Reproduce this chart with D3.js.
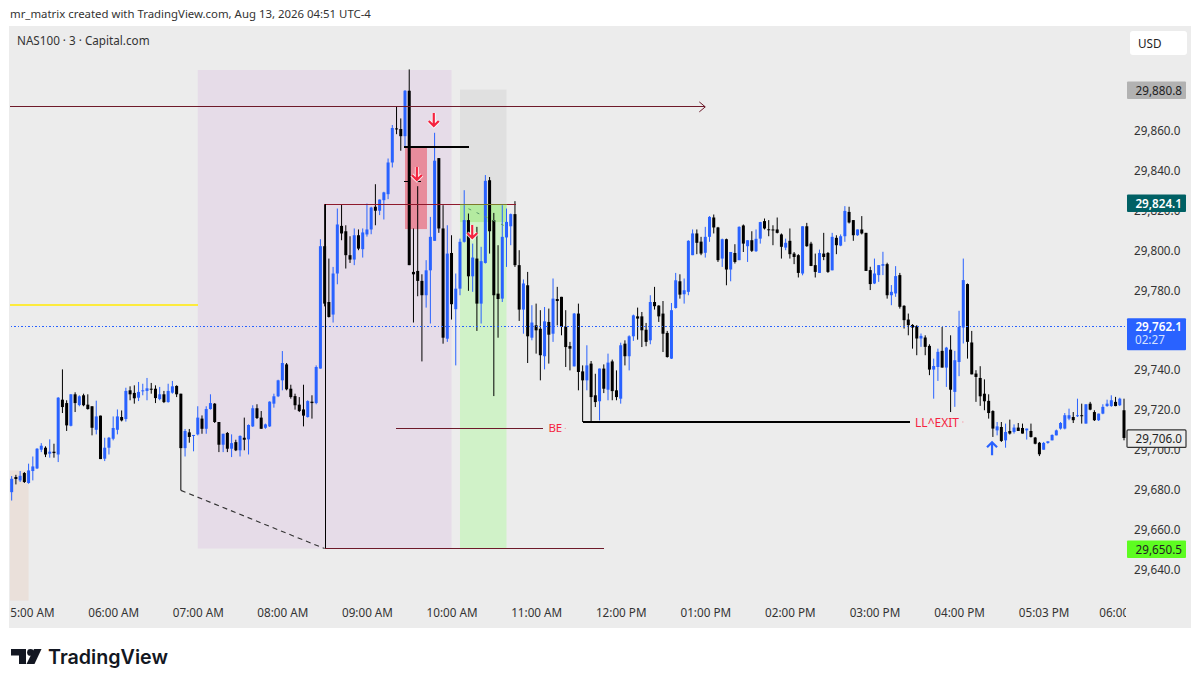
<!DOCTYPE html>
<html>
<head>
<meta charset="utf-8">
<script src="https://cdn.jsdelivr.net/npm/d3@7"></script>
<style>
    html, body { margin: 0; padding: 0; background: #fff; }
    svg { display: block; }
    text { font-family: "Noto Sans", sans-serif; }
</style>
</head>
<body>
<div id="chart"></div>
<script>
// 3 minute bars
const opens = [
29678.8,29686.4,29684.7,29688.4,29683.4,29689.4,29690.7,29700.1,29701.1,29698.1,
29699.1,29697.7,29725.2,29723.5,29712.1,29727.9,29722.5,29727.4,29722.7,29721.9,
29710.1,29717.2,29695.6,29701.1,29705.6,29710.1,29716.5,29715.5,29729.9,29728.6,
29726.2,29729.6,29729.6,29730.7,29730.7,29725.5,29727.9,29724.0,29728.7,29732.1,
29728.2,29700.9,29708.8,29707.0,29707.8,29715.7,29710.6,29720.5,29723.2,29714.0,
29702.6,29708.5,29700.6,29703.9,29699.8,29706.1,29705.3,29711.8,29720.9,29716.2,
29711.1,29711.8,29723.2,29726.9,29734.9,29742.9,29730.7,29727.0,29722.7,29720.3,
29716.5,29724.2,29723.5,29740.8,29802.2,29774.2,29767.9,29788.5,29812.4,29809.7,
29797.7,29795.5,29807.7,29800.7,29808.1,29810.6,29822.0,29820.0,29825.3,29828.3,
29844.2,29861.3,29861.0,29857.4,29880.2,29789.3,29789.8,29784.8,29777.6,29790.1,
29804.9,29846.4,29811.1,29755.8,29798.8,29770.6,29780.9,29804.4,29815.3,29787.1,
29796.0,29773.4,29793.8,29835.3,29815.3,29778.4,29775.9,29806.6,29812.2,29818.3,
29792.7,29770.4,29782.6,29756.3,29762.5,29760.8,29747.0,29764.2,29758.3,29775.7,
29776.8,29761.7,29752.1,29741.9,29768.4,29739.4,29734.9,29743.3,29727.4,29724.4,
29740.8,29730.2,29744.4,29729.9,29725.7,29753.3,29747.0,29757.0,29767.0,29767.0,
29760.3,29755.0,29774.2,29772.4,29768.4,29758.7,29745.8,29771.2,29784.6,29778.1,
29779.3,29797.7,29808.6,29804.5,29798.9,29806.9,29816.6,29811.6,29796.0,29805.7,
29790.5,29798.8,29795.2,29812.6,29802.2,29805.2,29799.7,29806.0,29814.8,29810.7,
29810.6,29810.6,29808.1,29801.5,29804.9,29798.5,29797.7,29788.5,29812.2,29803.5,
29792.7,29788.8,29798.5,29798.8,29790.1,29806.4,29802.5,29807.2,29819.4,29815.3,
29807.7,29810.6,29808.9,29790.2,29783.5,29787.7,29792.4,29793.2,29777.6,29778.5,
29787.7,29772.3,29765.4,29762.7,29762.1,29755.9,29756.4,29752.2,29740.3,29741.6,
29749.7,29741.3,29750.3,29729.1,29744.1,29761.4,29783.2,29753.9,29738.3,29736.1,
29728.2,29724.6,29719.5,29709.8,29711.5,29704.8,29709.5,29709.0,29711.2,29711.0,
29709.8,29709.5,29706.2,29703.6,29700.1,29703.5,29704.8,29707.3,29710.7,29710.7,
29715.7,29716.5,29716.9,29717.4,29713.2,29723.2,29719.0,29714.9,29718.2,29722.0,
29722.0,29724.1,29722.4,29719.9];

const highs = [
29686.9,29687.5,29689.4,29688.9,29693.1,29696.7,29700.9,29703.4,29701.8,29705.3,
29703.1,29726.5,29740.4,29724.9,29727.9,29728.9,29727.4,29728.2,29727.9,29721.9,
29724.7,29717.2,29706.1,29706.5,29716.8,29720.3,29719.8,29731.2,29731.9,29732.4,
29734.1,29733.2,29736.1,29733.6,29732.4,29731.6,29729.6,29733.2,29734.6,29732.4,
29728.2,29710.5,29710.5,29707.5,29721.9,29717.3,29721.9,29727.9,29723.5,29714.0,
29708.1,29709.0,29707.8,29705.1,29707.3,29716.2,29712.8,29722.4,29722.9,29719.5,
29713.2,29724.4,29728.2,29735.2,29749.6,29743.6,29732.7,29728.2,29726.5,29732.7,
29724.9,29727.4,29742.4,29805.7,29823.1,29796.0,29791.8,29821.1,29823.1,29812.7,
29807.2,29811.1,29810.6,29811.1,29823.6,29822.0,29833.3,29825.6,29829.5,29846.2,
29863.0,29872.5,29866.3,29880.5,29890.9,29811.1,29832.3,29788.1,29795.2,29816.9,
29859.1,29846.4,29822.8,29812.7,29807.7,29788.5,29806.0,29830.3,29818.6,29803.5,
29811.9,29801.9,29837.9,29836.9,29818.9,29802.7,29822.8,29821.1,29818.6,29824.8,
29800.2,29785.5,29789.3,29772.6,29773.4,29770.1,29771.7,29770.9,29786.0,29781.8,
29776.8,29770.1,29754.2,29768.7,29773.4,29742.4,29752.5,29744.6,29738.2,29740.8,
29742.9,29748.3,29745.3,29739.9,29753.8,29755.0,29757.5,29767.9,29771.4,29769.2,
29763.7,29777.6,29781.8,29772.6,29774.7,29759.7,29773.7,29788.8,29788.1,29786.0,
29805.2,29810.6,29810.6,29806.9,29811.9,29817.3,29818.1,29811.9,29806.0,29806.0,
29799.3,29803.2,29812.2,29813.1,29805.2,29809.7,29810.6,29814.4,29816.1,29815.3,
29812.7,29816.6,29808.6,29806.0,29811.1,29799.3,29798.2,29812.2,29813.9,29804.4,
29798.5,29800.5,29808.9,29799.3,29808.9,29807.7,29808.1,29822.3,29822.0,29815.3,
29810.6,29817.3,29808.9,29791.9,29796.0,29792.7,29799.4,29793.9,29782.7,29792.2,
29788.8,29772.6,29768.4,29763.1,29762.6,29758.4,29757.5,29753.0,29745.8,29750.8,
29761.7,29751.7,29757.5,29749.7,29769.8,29796.0,29783.5,29759.7,29740.0,29742.0,
29735.4,29727.9,29719.9,29714.0,29714.0,29713.2,29715.2,29712.8,29713.5,29713.2,
29710.7,29713.2,29706.5,29704.0,29704.0,29704.3,29707.8,29710.2,29714.0,29718.5,
29720.7,29719.0,29725.7,29723.2,29722.9,29724.1,29719.9,29718.2,29722.9,29725.2,
29727.4,29726.6,29726.2,29725.7];

const lows = [
29674.6,29682.7,29683.9,29683.4,29683.0,29684.7,29690.4,29698.9,29696.4,29696.1,
29696.1,29693.9,29718.5,29709.5,29711.8,29719.0,29721.9,29721.9,29720.2,29707.3,
29707.8,29695.4,29694.4,29697.7,29704.8,29707.8,29714.3,29714.2,29724.9,29723.2,
29724.5,29727.4,29724.9,29728.2,29723.5,29724.9,29723.5,29723.7,29728.2,29726.5,
29679.7,29696.7,29703.6,29699.3,29707.3,29708.1,29708.1,29720.2,29713.5,29698.9,
29698.9,29698.9,29696.4,29699.4,29696.7,29699.8,29697.7,29711.5,29715.5,29710.6,
29710.6,29711.5,29721.2,29726.5,29729.9,29729.9,29725.7,29720.2,29719.0,29711.8,
29716.2,29715.7,29722.9,29740.8,29772.0,29766.4,29763.9,29783.1,29805.2,29791.0,
29793.8,29792.7,29800.2,29796.5,29807.0,29808.2,29812.7,29817.8,29815.6,29825.8,
29841.7,29858.4,29850.1,29851.7,29792.7,29763.9,29777.1,29744.4,29771.4,29763.4,
29804.9,29808.9,29753.3,29754.2,29765.4,29742.4,29777.6,29804.0,29779.8,29779.3,
29759.7,29763.4,29793.5,29798.5,29727.0,29756.3,29774.2,29791.8,29802.7,29791.8,
29764.7,29758.3,29743.6,29755.0,29748.3,29734.9,29740.4,29743.3,29754.2,29762.5,
29757.5,29741.6,29739.9,29741.9,29729.9,29714.0,29729.9,29714.0,29721.5,29714.8,
29728.5,29724.9,29724.9,29724.9,29723.2,29742.4,29739.9,29754.7,29755.3,29751.6,
29752.0,29753.0,29770.4,29764.2,29749.1,29746.3,29745.6,29770.9,29775.9,29773.4,
29777.6,29797.7,29798.2,29797.7,29796.5,29804.4,29808.6,29794.3,29791.8,29782.6,
29784.6,29793.5,29795.2,29799.3,29794.3,29799.3,29799.3,29803.5,29810.6,29807.2,
29802.7,29808.6,29796.0,29800.2,29796.0,29793.2,29786.5,29787.6,29801.9,29792.2,
29786.5,29788.8,29795.2,29788.8,29790.1,29798.2,29802.2,29804.4,29813.6,29804.9,
29807.4,29808.1,29789.8,29780.2,29783.2,29784.3,29787.7,29775.9,29772.6,29776.8,
29770.9,29760.9,29757.5,29750.8,29747.5,29751.7,29747.5,29737.5,29725.7,29734.6,
29741.3,29731.6,29719.0,29721.6,29737.0,29753.4,29745.8,29737.9,29724.1,29722.1,
29719.9,29715.7,29706.5,29707.3,29704.0,29701.1,29707.7,29708.2,29709.5,29708.2,
29705.2,29706.2,29702.8,29696.9,29700.1,29703.1,29704.8,29707.3,29710.2,29710.3,
29714.9,29713.5,29716.5,29713.2,29713.2,29719.9,29714.5,29714.5,29717.9,29721.6,
29721.6,29721.9,29722.0,29704.8];

const closes = [
29685.5,29685.4,29687.0,29683.9,29689.7,29691.7,29700.6,29702.1,29697.7,29699.1,
29698.4,29726.2,29721.5,29712.3,29727.9,29723.5,29726.9,29722.4,29720.5,29711.1,
29716.8,29695.4,29701.1,29706.1,29711.0,29716.8,29714.8,29729.6,29727.9,29725.9,
29729.1,29729.9,29730.9,29730.4,29726.0,29727.9,29724.0,29729.6,29731.9,29727.9,
29700.9,29709.5,29706.5,29707.5,29716.2,29710.6,29720.5,29723.5,29714.0,29702.6,
29708.1,29700.6,29703.4,29699.8,29707.0,29705.1,29712.5,29720.9,29716.0,29710.6,
29712.8,29724.2,29726.9,29734.9,29743.6,29730.4,29726.5,29722.4,29719.5,29717.2,
29724.5,29723.5,29741.6,29802.2,29773.4,29766.7,29788.5,29813.1,29808.6,29797.7,
29795.5,29807.7,29801.0,29809.1,29810.6,29821.6,29820.0,29825.6,29829.2,29844.2,
29861.5,29860.8,29857.4,29880.2,29792.7,29788.1,29784.8,29777.6,29790.1,29806.9,
29845.1,29811.1,29756.3,29798.5,29773.1,29780.9,29804.4,29815.3,29787.1,29796.5,
29773.4,29794.7,29835.0,29809.7,29777.6,29775.7,29806.9,29814.4,29818.3,29792.7,
29770.4,29783.5,29757.0,29763.9,29760.0,29747.5,29764.5,29757.8,29775.9,29774.7,
29761.7,29751.6,29750.8,29768.4,29739.1,29734.9,29742.4,29726.5,29724.0,29740.8,
29730.7,29743.8,29729.5,29726.5,29752.5,29747.0,29757.0,29767.5,29765.9,29760.0,
29754.2,29774.2,29772.1,29767.0,29758.3,29746.6,29770.1,29785.1,29777.9,29780.1,
29804.9,29808.6,29803.9,29798.5,29806.9,29816.9,29811.6,29795.2,29805.7,29790.5,
29799.3,29794.3,29811.9,29803.5,29805.2,29799.9,29805.9,29814.3,29811.1,29810.2,
29810.2,29808.9,29801.9,29803.9,29798.2,29796.8,29788.8,29812.2,29802.2,29792.3,
29789.3,29798.8,29796.8,29789.3,29806.9,29802.7,29807.2,29819.9,29814.1,29807.7,
29810.6,29808.6,29789.8,29783.2,29788.5,29792.7,29793.2,29777.6,29779.3,29787.2,
29771.8,29765.1,29762.6,29761.4,29755.9,29757.2,29751.7,29740.3,29742.1,29749.2,
29741.3,29751.3,29730.2,29745.0,29761.7,29785.2,29754.2,29737.9,29736.6,29726.9,
29724.4,29718.5,29710.7,29711.8,29704.5,29709.0,29708.2,29711.2,29709.5,29708.2,
29710.7,29706.5,29703.1,29697.8,29703.5,29704.3,29707.5,29709.8,29713.5,29717.4,
29717.4,29714.9,29717.4,29717.0,29722.9,29720.2,29714.9,29718.2,29721.6,29723.2,
29724.9,29722.0,29725.7,29706.0];

// Axis labels (29,760 sits behind the last price flag in the picture)
const priceTicks = [29640, 29660, 29680, 29700, 29720, 29740, 29780, 29800, 29820, 29840, 29860];
const timeTickBars = [4, 24, 44, 64, 84, 104, 124, 144, 164, 184, 204, 224, 244, 263];
const timeTickLabels = ["05:00 AM", "06:00 AM", "07:00 AM", "08:00 AM", "09:00 AM", "10:00 AM", "11:00 AM",
    "12:00 PM", "01:00 PM", "02:00 PM", "03:00 PM", "04:00 PM", "05:03 PM", "06:00 PM"];

// Price flags on the right hand scale
const flagPrices = [29880.8, 29824.1, 29762.1, 29706.0, 29650.5];
const flagFills = ["#b2b2b2", "#006064", "#2962ff", "#ececec", "#5dfc20"];
const flagInk = ["#222", "#fff", "#fff", "#222", "#222"];

// Drawing levels and bar positions
const sessionBox = [44, 104, 29890.6, 29650.5];
const earlyBox = [-1, 4, 29689.7, 29624.4];
const stopBox = [106, 117, 29880.8, 29823.3];
const targetBox = [106, 117, 29823.3, 29650.5];
const targetBoxTop = [106, 117, 29823.3, 29814.3];
const entryBox = [93, 98.2, 29852.0, 29810.8];

const colors = { up: "#2962ff", down: "#000000", maroon: "#6e1a2a", red: "#f5233f", pane: "#ececec" };

const width = 1200, height = 687;
const pane = { left: 9, right: 1191, top: 26, bottom: 628, plotRight: 1126 };

const x = d3.scaleLinear().domain([0, 263]).range([11.67, 1124]);
const y = d3.scaleLinear().domain([29640, 29860]).range([569.5, 131]);

const svg = d3.select("#chart").append("svg").attr("width", width).attr("height", height);

svg.append("rect").attr("width", width).attr("height", height).attr("fill", "#fff");
svg.append("rect")
    .attr("x", pane.left).attr("y", pane.top)
    .attr("width", pane.right - pane.left).attr("height", pane.bottom - pane.top)
    .attr("fill", colors.pane);

svg.append("clipPath").attr("id", "plotClip").append("rect")
    .attr("x", 10).attr("y", pane.top)
    .attr("width", pane.plotRight - 10).attr("height", pane.bottom - pane.top);

// Header
svg.append("text").attr("x", 10).attr("y", 18).attr("font-size", 11.4).attr("fill", "#333")
    .text("mr_matrix created with TradingView.com, Aug 13, 2026 04:51 UTC-4");
svg.append("text").attr("x", 17).attr("y", 45).attr("font-size", 11.7).attr("fill", "#333")
    .text("NAS100 · 3 · Capital.com");

const plot = svg.append("g").attr("clip-path", "url(#plotClip)");

function addBox(box, fill) {
    plot.append("rect")
        .attr("x", x(box[0])).attr("y", y(box[2]))
        .attr("width", x(box[1]) - x(box[0])).attr("height", y(box[3]) - y(box[2]))
        .attr("fill", fill);
}

addBox(sessionBox, "#e6dce8");
addBox(earlyBox, "#eae0da");
addBox(stopBox, "#e0e0e0");
addBox(targetBox, "#d0f2c8");
addBox(targetBoxTop, "#b4eba0");
addBox(entryBox, "#e88c9c");

function addLine(x1, p1, x2, p2, stroke, strokeWidth, dash) {
    return plot.append("line")
        .attr("x1", x(x1)).attr("y1", y(p1))
        .attr("x2", x(x2)).attr("y2", y(p2))
        .attr("stroke", stroke).attr("stroke-width", strokeWidth)
        .attr("stroke-dasharray", dash || null)
        .attr("shape-rendering", (p1 === p2 || x1 === x2) ? "crispEdges" : null);
}

addLine(-1, 29772.6, 44, 29772.6, "#fdeb3c", 2);

// Candles
const bars = d3.range(opens.length);
const barColor = i => closes[i] >= opens[i] ? colors.up : colors.down;

plot.append("g").selectAll("line").data(bars).join("line")
    .attr("x1", i => x(i)).attr("x2", i => x(i))
    .attr("y1", i => y(highs[i])).attr("y2", i => y(lows[i]))
    .attr("stroke", barColor).attr("stroke-width", 1);

plot.append("g").selectAll("rect").data(bars).join("rect")
    .attr("x", i => x(i) - 1.5).attr("width", 3)
    .attr("y", i => y(Math.max(opens[i], closes[i])))
    .attr("height", i => Math.max(1, Math.abs(y(opens[i]) - y(closes[i]))))
    .attr("fill", barColor);

// Drawings on top of the candles
addLine(-1, 29872.1, 164, 29872.1, colors.maroon, 1);
plot.append("path")
    .attr("d", `M${x(164) - 6},${y(29872.1) - 5}L${x(164)},${y(29872.1)}L${x(164) - 6},${y(29872.1) + 5}`)
    .attr("fill", "none").attr("stroke", colors.maroon);

addLine(92.8, 29852.2, 108.2, 29852.2, "#000", 2);
addLine(73.8, 29823.3, 119.2, 29823.3, "#8f1a2c", 1);
addLine(106, 29823.3, 117, 29823.3, "#7d7a2a", 1);
addLine(74.1, 29823.3, 74.1, 29650.5, "#000", 1);
addLine(74, 29650.5, 140, 29650.5, colors.maroon, 1);
addLine(40, 29679.7, 74, 29650.5, "#333", 1.1, "5 4");
addLine(90.8, 29710.8, 125.6, 29710.8, colors.maroon, 1);
addLine(135, 29714, 212.3, 29714, "#000", 2);
addLine(92.8, 29834.5, 93.8, 29834.5, "#000", 1);
addLine(95.8, 29834.5, 96.9, 29834.5, "#000", 1);
addLine(108, 29821, 117, 29812, "#5a9a6a", 1, "3 6");

plot.append("text").attr("x", x(126.9)).attr("y", y(29710.8) + 4)
    .attr("font-size", 11.5).attr("fill", colors.red).text("BE");
plot.append("text").attr("x", x(213.6)).attr("y", y(29714) + 4.5)
    .attr("font-size", 12).attr("fill", colors.red).text("LL^EXIT");
plot.append("circle").attr("cx", x(130.9)).attr("cy", y(29710.8)).attr("r", 0.7).attr("fill", "#f5a0ac");
plot.append("circle").attr("cx", x(224.9)).attr("cy", y(29714)).attr("r", 0.7).attr("fill", "#f5a0ac");

// Dotted last price line
addLine(-1, 29762.1, 263.5, 29762.1, colors.up, 1, "1.5 2");

// Signal arrows, tip at the given bar and price
const arrowBars = [99.8, 95.8, 108.9, 231.8];
const arrowPrices = [29862, 29834.9, 29805.8, 29704.3];
const arrowDirs = [-1, -1, -1, 1];

arrowBars.forEach((b, k) => {
    const tipX = x(b), tipY = y(arrowPrices[k]), d = arrowDirs[k];
    const shape = `M${tipX},${tipY + d * 14}L${tipX},${tipY + d}M${tipX - 5},${tipY + d * 6}L${tipX},${tipY + d}L${tipX + 5},${tipY + d * 6}`;
    const ink = d < 0 ? colors.red : colors.up;
    if (d < 0) plot.append("path").attr("d", shape).attr("fill", "none").attr("stroke", "#fff").attr("stroke-width", 4).attr("opacity", 0.8);
    plot.append("path").attr("d", shape).attr("fill", "none").attr("stroke", ink).attr("stroke-width", 2.2);
});

// Axes
const yAxis = svg.append("g").attr("transform", `translate(${pane.plotRight + 8},0)`)
    .call(d3.axisRight(y).tickValues(priceTicks).tickSize(0).tickPadding(0).tickFormat(d3.format(",.1f")));
yAxis.select(".domain").remove();
yAxis.selectAll("text").attr("font-size", 11.7).attr("fill", "#333").style("font-family", '"Noto Sans", sans-serif');

const timeLabelByBar = new Map(timeTickBars.map((b, k) => [b, timeTickLabels[k]]));
const xAxis = svg.append("g").attr("clip-path", "url(#plotClip)").append("g")
    .attr("transform", "translate(0,609)")
    .call(d3.axisBottom(x).tickValues(timeTickBars).tickSize(0).tickPadding(0).tickFormat(b => timeLabelByBar.get(b)));
xAxis.select(".domain").remove();
xAxis.selectAll("text").attr("font-size", 11.7).attr("fill", "#333").style("font-family", '"Noto Sans", sans-serif');

// Price flags
const flags = svg.append("g").selectAll("g").data(flagPrices).join("g")
    .attr("transform", p => `translate(1127,${y(p)})`);

flags.append("rect")
    .attr("x", 0).attr("y", -8).attr("rx", 1)
    .attr("width", 59).attr("height", (p, k) => k === 2 ? 32 : 17.5)
    .attr("fill", (p, k) => flagFills[k])
    .attr("stroke", (p, k) => k === 3 ? "#333" : "none").attr("stroke-width", 1.2);

flags.append("text")
    .attr("x", 55).attr("y", 5).attr("text-anchor", "end")
    .attr("font-size", 11.7).attr("fill", (p, k) => flagInk[k])
    .attr("font-weight", (p, k) => (k === 1 || k === 2) ? 600 : 400)
    .text(d3.format(",.1f"));

svg.append("text").attr("x", 1135).attr("y", 344).attr("font-size", 11.7)
    .attr("fill", "#d5e0ff").text("02:27");

// Currency button
svg.append("rect").attr("x", 1130).attr("y", 31).attr("width", 57).attr("height", 24).attr("rx", 3).attr("fill", "#fff");
svg.append("text").attr("x", 1138).attr("y", 48).attr("font-size", 11.7).attr("fill", "#222").text("USD");

// Logo
const logo = svg.append("g").attr("transform", "translate(11,649)").attr("fill", "#131722");
logo.append("path").attr("d", "M0,0H15V15H8V6.5H0Z");
logo.append("circle").attr("cx", 19.5).attr("cy", 3.4).attr("r", 3.4);
logo.append("path").attr("d", "M23,0H30.5L23.5,15H15.5Z");
svg.append("text").attr("x", 48).attr("y", 664).attr("font-size", 19.7).attr("font-weight", 600)
    .attr("fill", "#131722").style("font-family", "Inter, sans-serif").text("TradingView");
</script>
</body>
</html>
